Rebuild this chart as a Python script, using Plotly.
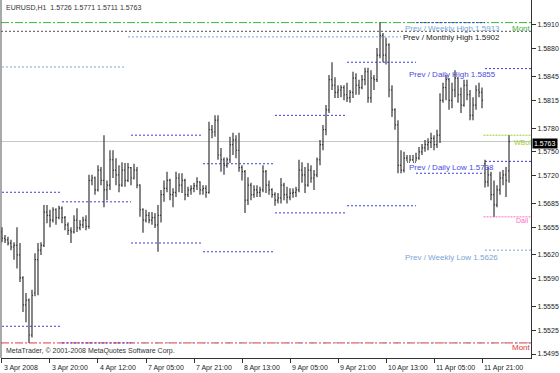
import plotly.graph_objects as go

# ---- data (prices in pips *1e-4) ----
opens = [15649,15641,15639,15635,15630,15632,15620,15591,15557,15563,15519,15572,15614,15626,15632,15674,15670,15664,15677,15667,
         15679,15667,15658,15651,15649,15664,15654,15658,15664,15656,15714,15717,15702,15727,15714,15702,15708,15740,15727,15721,
         15708,15727,15714,15730,15717,15727,15708,15677,15664,15670,15664,15667,15658,15670,15696,15704,15714,15696,15699,15717,
         15708,15714,15696,15702,15704,15707,15712,15702,15704,15699,15778,15775,15790,15746,15740,15733,15740,15759,15765,15752,
         15730,15725,15689,15708,15696,15702,15699,15702,15725,15708,15702,15696,15689,15692,15708,15696,15693,15698,15699,15702,
         15727,15721,15708,15727,15717,15721,15740,15759,15778,15803,15841,15834,15825,15828,15831,15822,15818,15825,15843,15834,
         15831,15841,15851,15818,15843,15841,15872,15897,15872,15885,15828,15803,15784,15733,15727,15742,15737,15740,15737,15742,
         15750,15755,15759,15762,15767,15759,15771,15815,15831,15841,15815,15828,15843,15822,15809,15834,15822,15796,15809,15828,
         15825,15735,15712,15721,15696,15683,15702,15717,15721,15726]
highs = [15655,15645,15643,15639,15636,15655,15635,15593,15572,15565,15576,15622,15635,15636,15683,15683,15677,15680,15679,15682,
         15681,15669,15661,15655,15670,15679,15664,15668,15670,15721,15721,15719,15733,15731,15771,15714,15752,15752,15742,15733,
         15737,15736,15736,15731,15735,15731,15709,15679,15677,15674,15674,15673,15683,15702,15714,15725,15716,15704,15725,15723,
         15723,15716,15706,15708,15711,15718,15713,15708,15708,15788,15784,15796,15796,15755,15743,15743,15769,15774,15771,15774,
         15733,15727,15718,15711,15708,15708,15706,15733,15727,15714,15704,15699,15698,15717,15711,15706,15704,15704,15706,15740,
         15737,15731,15736,15733,15727,15743,15765,15784,15809,15847,15863,15844,15834,15834,15834,15837,15828,15851,15849,15841,
         15847,15856,15856,15853,15847,15881,15913,15900,15894,15887,15834,15805,15790,15752,15750,15746,15746,15746,15749,15756,
         15760,15765,15767,15774,15771,15778,15824,15837,15847,15843,15837,15853,15844,15831,15841,15841,15828,15819,15834,15837,
         15831,15740,15731,15725,15714,15708,15725,15727,15731,15771]
lows = [15636,15635,15632,15626,15614,15603,15586,15548,15535,15509,15516,15568,15569,15620,15630,15660,15655,15661,15658,15665,
        15660,15651,15645,15635,15647,15649,15651,15654,15651,15653,15708,15696,15700,15708,15680,15689,15702,15717,15708,15699,
        15706,15706,15712,15708,15715,15704,15668,15648,15661,15660,15658,15654,15624,15661,15687,15699,15689,15680,15693,15699,
        15698,15689,15693,15696,15699,15702,15696,15696,15692,15697,15767,15769,15740,15725,15721,15730,15736,15746,15742,15725,
        15714,15673,15683,15689,15692,15693,15693,15699,15698,15696,15692,15682,15685,15685,15689,15685,15689,15692,15693,15699,
        15711,15698,15706,15711,15702,15718,15733,15752,15771,15799,15828,15818,15818,15819,15815,15813,15812,15818,15822,15822,
        15829,15834,15812,15812,15828,15838,15868,15863,15860,15819,15794,15778,15723,15723,15724,15738,15738,15738,15738,15740,
        15746,15750,15752,15755,15752,15755,15761,15812,15815,15803,15805,15819,15812,15799,15807,15815,15790,15790,15803,15819,
        15805,15705,15706,15689,15668,15680,15696,15708,15693,15711]
closes = [15641,15639,15635,15630,15632,15620,15591,15557,15563,15519,15569,15614,15626,15632,15674,15670,15664,15677,15667,15679,
          15667,15658,15651,15649,15664,15654,15658,15664,15656,15714,15717,15702,15727,15714,15702,15708,15740,15727,15721,15708,
          15727,15714,15730,15717,15727,15708,15677,15664,15670,15664,15667,15658,15670,15696,15704,15714,15696,15699,15717,15708,
          15714,15696,15702,15704,15707,15712,15702,15704,15699,15778,15775,15790,15746,15740,15733,15740,15759,15765,15752,15730,
          15725,15689,15708,15696,15702,15699,15702,15725,15708,15702,15696,15689,15692,15708,15696,15693,15698,15699,15702,15727,
          15721,15708,15727,15717,15721,15740,15759,15778,15803,15841,15834,15825,15828,15831,15822,15818,15825,15843,15834,15831,
          15841,15851,15818,15843,15841,15872,15897,15872,15885,15828,15803,15784,15733,15727,15742,15737,15740,15737,15742,15750,
          15755,15759,15762,15767,15759,15771,15815,15831,15841,15815,15828,15843,15822,15809,15834,15822,15796,15809,15828,15825,
          15815,15712,15721,15696,15683,15702,15717,15721,15714,15763]

tick_idx = [0, 16, 32, 48, 64, 80, 96, 112, 128, 144, 160]
tick_text = ["3 Apr 2008", "3 Apr 20:00", "4 Apr 12:00", "7 Apr 05:00", "7 Apr 21:00", "8 Apr 13:00",
             "9 Apr 05:00", "9 Apr 21:00", "10 Apr 13:00", "11 Apr 05:00", "11 Apr 21:00"]
y_ticks = [1.5910, 1.5880, 1.5845, 1.5815, 1.5780, 1.5750, 1.5720, 1.5685, 1.5655, 1.5620, 1.5590, 1.5555, 1.5525, 1.5495]

day_start = [0, 20, 43, 67, 91, 115, 138, 161]
prev_day_high = [15699, 15687, 15771, 15735, 15796, 15863, 15913, 15855]
prev_day_low = [15530, 15509, 15635, 15624, 15673, 15682, 15723, 15738]

month_high = 15913
month_low = 15509
prev_month_high = 15902
week_levels = [(0, 41, 15857), (42, 133, 15895)]
prev_week_low = 15626
today_high = 15771
today_low = 15668
last_price = 1.5763

P = lambda v: [x / 10000 for x in v]
x = list(range(len(opens)))
XR = [-0.33, 176.33]
FONT = "Liberation Sans"

fig = go.Figure()
fig.add_trace(go.Ohlc(x=x, open=P(opens), high=P(highs), low=P(lows), close=P(closes),
                      increasing=dict(line=dict(color="#383838", width=1.2)),
                      decreasing=dict(line=dict(color="#383838", width=1.2)),
                      tickwidth=0.35, hoverinfo="skip", showlegend=False))

shapes = []
def hline(x0, x1, y, color, dash, width=1, xref="x"):
    shapes.append(dict(type="line", xref=xref, yref="y", x0=x0, x1=x1, y0=y, y1=y,
                       line=dict(color=color, width=width, dash=dash), layer="below"))

# price line
hline(0, 1, last_price, "#c8c8c8", "solid", 1, "paper")
# monthly
hline(0, 1, month_high / 1e4, "#3cb43c", "8px,2px,2px,2px", 1, "paper")
hline(0, 1, prev_month_high / 1e4, "#555555", "2px,2px", 1, "paper")
hline(0, 1, month_low / 1e4, "#e03a3a", "8px,2px,2px,2px", 1, "paper")
hline(day_start[2], XR[1], month_low / 1e4 + 0.00001, "#7a9fd0", "3px,9px", 1)
# weekly
for a, b, v in week_levels:
    hline(a, b, v / 1e4, "#7aa4d6", "2px,2px")
hline(161, XR[1], prev_week_low / 1e4, "#7aa4d6", "2px,2px")
# daily
ends = day_start[1:] + [XR[1]]
for s, e, h, l in zip(day_start, ends, prev_day_high, prev_day_low):
    hline(s, e, h / 1e4, "#3c3cdc", "2px,2px")
    hline(s, e, l / 1e4, "#3c3cdc", "2px,2px")
# today's high / low
hline(160.5, XR[1], today_high / 1e4, "#9acd32", "2px,1px")
hline(160.5, XR[1], today_low / 1e4, "#ff69c8", "2px,1px")
# left border
shapes.append(dict(type="line", xref="paper", yref="paper", x0=0, x1=0, y0=0, y1=1,
                   line=dict(color="#555555", width=1)))

ann = []
def text(xv, yv, t, color, size=8, xref="x", yref="y", xanchor="left", yanchor="middle", **kw):
    d = dict(x=xv, y=yv, xref=xref, yref=yref, text=t, showarrow=False, xanchor=xanchor,
             yanchor=yanchor, font=dict(family=FONT, size=size, color=color))
    d.update(kw)
    ann.append(d)

text(0.005, 1.0, "EURUSD,H1  1.5726 1.5771 1.5711 1.5763", "#333333", 7, "paper", "paper", yanchor="top", yshift=-2)
text(0.005, 0.0, "MetaTrader, © 2001-2008 MetaQuotes Software Corp.", "#333333", 7, "paper", "paper", yanchor="bottom", yshift=1)
text(133.7, 1.5905, "Prev / Weekly High 1.5913", "#7aa4d6")
text(133.0, 1.5894, "Prev / Monthly High 1.5902", "#222222")
text(135.0, 1.5847, "Prev / Daily High 1.5855", "#4a4ae0")
text(135.0, 1.5730, "Prev / Daily Low 1.5738", "#4a4ae0")
text(133.7, 1.5617, "Prev / Weekly Low 1.5626", "#7aa4d6")
text(169.3, 1.5906, "Mont", "#3cb43c")
text(169.3, 1.5503, "Mont", "#e03a3a")
text(170.0, 1.5762, "WBol", "#9acd32", 7)
text(170.7, 1.5664, "Dail", "#ff69c8", 7)
for i, t in zip(tick_idx, tick_text):
    text(i, 0, t, "#222222", 7, "x", "paper", yanchor="top", yshift=-4, xshift=0)
text(1.0, last_price, "1.5763", "#ffffff", 7, "paper", "y", xshift=1, yshift=-2, bgcolor="#000000", borderpad=1)

fig.update_layout(
    width=560, height=373, margin=dict(l=1, r=29, t=0, b=15),
    paper_bgcolor="white", plot_bgcolor="white",
    shapes=shapes, annotations=ann, showlegend=False,
    xaxis=dict(range=XR, showgrid=False, zeroline=False, rangeslider=dict(visible=False),
               tickvals=tick_idx, ticktext=[""] * len(tick_idx), ticks="outside", ticklen=4,
               tickcolor="#333333", showline=True, linecolor="#333333", linewidth=1),
    yaxis=dict(range=[1.54900, 1.59415], side="right", showgrid=False, zeroline=False,
               tickvals=y_ticks, tickformat=".4f", ticks="outside", ticklen=4, tickcolor="#333333",
               showline=True, linecolor="#333333", linewidth=1,
               tickfont=dict(family=FONT, size=7, color="#222222")),
)
fig.write_html("out.html")
